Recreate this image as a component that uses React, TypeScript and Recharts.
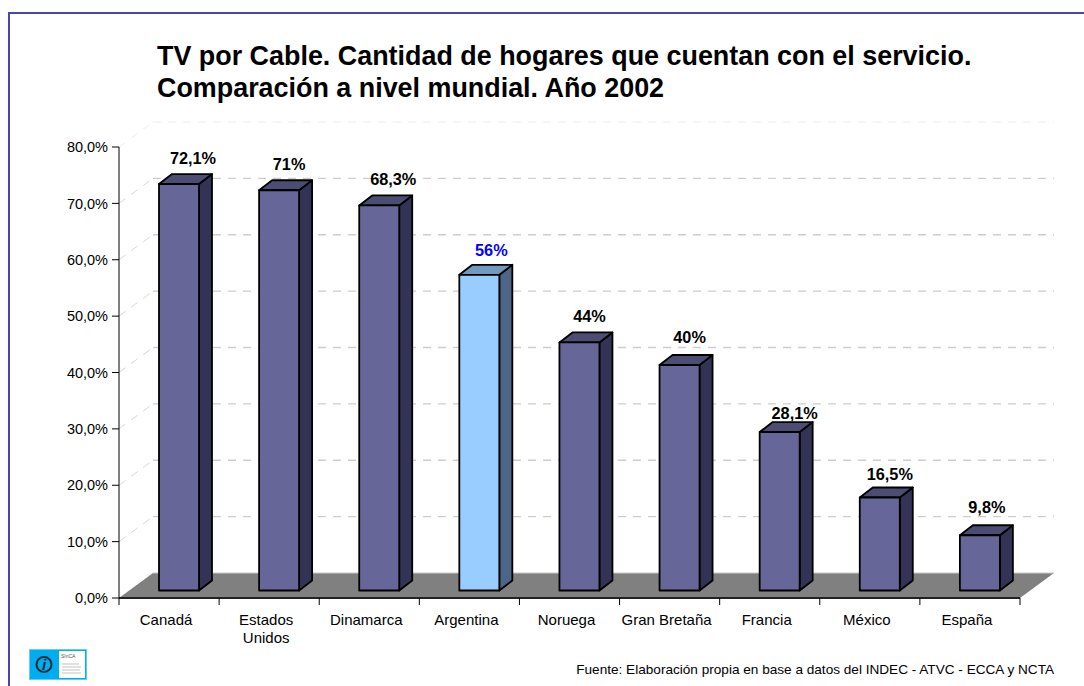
import { BarChart, Bar, XAxis, YAxis, CartesianGrid, Cell, LabelList } from 'recharts';

const countries = ['Canadá', 'Estados Unidos', 'Dinamarca', 'Argentina', 'Noruega', 'Gran Bretaña', 'Francia', 'México', 'España'];
const households = [72.1, 71, 68.3, 56, 44, 40, 28.1, 16.5, 9.8];
const yTicks = [0, 10, 20, 30, 40, 50, 60, 70, 80];
const highlighted = 'Argentina';

const data = countries.map((name, i) => ({ name, value: households[i] }));

const WIDTH = 1084;
const HEIGHT = 686;
const FONT = '"Liberation Sans", Arial, sans-serif';
const margin = { top: 147, right: 64, bottom: 48, left: 49 };
const X_AXIS_HEIGHT = 40;
const PLOT_BOTTOM = HEIGHT - margin.bottom - X_AXIS_HEIGHT;
const BAND = (WIDTH - 119 - margin.right) / countries.length;

// fake 3D: depth of the floor/walls, depth of each bar and how far bars sit inside the floor
const WALL_DX = 34;
const WALL_DY = 25;
const BAR_DX = 13;
const BAR_DY = 10;
const BAR_SHIFT_X = 10;
const BAR_SHIFT_Y = 7.5;

// hand placement of the value labels, relative to the top centre of each bar
const labelNudge = [
  [14, -26], [10, -26], [14, -26], [12, -24], [10, -26], [10, -28], [15, -19], [10, -23], [7, -28],
];

const faces = {
  normal: { front: '#666699', side: '#333355', top: '#4d4d73' },
  accent: { front: '#99ccff', side: '#4d6685', top: '#7399bf' },
};

function Bar3D(props: any) {
  const { x, y, width, height, payload } = props;
  const c = payload.name === highlighted ? faces.accent : faces.normal;
  const l = x + BAR_SHIFT_X;
  const r = l + width;
  const t = y - BAR_SHIFT_Y;
  const b = t + height;
  return (
    <g stroke="#000" strokeWidth={1.8} strokeLinejoin="round">
      <path d={`M${r},${t} L${r + BAR_DX},${t - BAR_DY} L${r + BAR_DX},${b - BAR_DY} L${r},${b} Z`} fill={c.side} />
      <path d={`M${l},${t} L${l + BAR_DX},${t - BAR_DY} L${r + BAR_DX},${t - BAR_DY} L${r},${t} Z`} fill={c.top} />
      <rect x={l} y={t} width={width} height={height} fill={c.front} />
    </g>
  );
}

function WallLine(props: any) {
  const { x1, x2, y1 } = props;
  const isFloor = Math.abs(y1 - PLOT_BOTTOM) < 1;
  const isTop = Math.abs(y1 - margin.top) < 1;
  if (isFloor) {
    return (
      <g>
        <path
          d={`M${x1},${y1} L${x1 + WALL_DX},${y1 - WALL_DY} L${x2 + WALL_DX},${y1 - WALL_DY} L${x2},${y1} Z`}
          fill="#808080"
        />
        <line x1={x1 + WALL_DX} x2={x2 + WALL_DX} y1={y1 - WALL_DY} y2={y1 - WALL_DY} stroke="#c8c8c8" strokeWidth={1} />
      </g>
    );
  }
  const color = isTop ? '#f2f2f2' : '#cdcdcd';
  return (
    <g fill="none" stroke={color} strokeDasharray="8 7">
      <path d={`M${x1},${y1} L${x1 + WALL_DX},${y1 - WALL_DY}`} stroke={isTop ? '#ececec' : '#d8d8d8'} />
      <path d={`M${x1 + WALL_DX},${y1 - WALL_DY} L${x2 + WALL_DX},${y1 - WALL_DY}`} strokeWidth={1.4} />
    </g>
  );
}

function CountryTick(props: any) {
  const { x, y, payload, index } = props;
  const words: string[] = payload.value === 'Estados Unidos' ? ['Estados', 'Unidos'] : [payload.value];
  const left = x - BAND / 2;
  return (
    <g>
      <line x1={left} x2={left} y1={PLOT_BOTTOM} y2={PLOT_BOTTOM + 7} stroke="#000" />
      {index === countries.length - 1 && (
        <line x1={left + BAND} x2={left + BAND} y1={PLOT_BOTTOM} y2={PLOT_BOTTOM + 7} stroke="#000" />
      )}
      {words.map((w, i) => (
        <text key={w} x={x - 3} y={y + 19 + i * 18} textAnchor="middle" fontFamily={FONT} fontSize={15} fill="#000">
          {w}
        </text>
      ))}
    </g>
  );
}

function ValueLabel(props: any) {
  const { x, y, width, value, index } = props;
  const [dx, dy] = labelNudge[index];
  return (
    <text
      x={x + BAR_SHIFT_X + width / 2 + dx}
      y={y - BAR_SHIFT_Y + dy + 5.5}
      textAnchor="middle"
      fontFamily={FONT}
      fontSize={16.3}
      fontWeight="bold"
      fill={countries[index] === highlighted ? '#0000ff' : '#000'}
    >
      {String(value).replace('.', ',')}%
    </text>
  );
}

function Logo() {
  return (
    <svg width={58} height={31} style={{ position: 'absolute', left: 29, top: 649 }}>
      <rect x={0.5} y={0.5} width={57} height={30} fill="#00aeef" stroke="#66ccf5" />
      <rect x={30} y={2} width={26} height={27} fill="#fff" />
      <circle cx={15} cy={15.5} r={7.5} fill="none" stroke="#0b2a3a" strokeWidth={2} />
      <text x={15} y={20.5} textAnchor="middle" fontFamily={FONT} fontSize={15} fontWeight="bold" fontStyle="italic" fill="#0b2a3a">
        i
      </text>
      <text x={32} y={9} fontFamily={FONT} fontSize={5} fill="#555">
        SInCA
      </text>
      <g stroke="#ccc" strokeWidth={1.2}>
        <line x1={33} x2={50} y1={15} y2={15} />
        <line x1={33} x2={52} y1={18} y2={18} />
        <line x1={33} x2={51} y1={21} y2={21} />
        <line x1={33} x2={52} y1={24} y2={24} />
      </g>
    </svg>
  );
}

export default function App() {
  return (
    <div style={{ position: 'absolute', left: 0, top: 0, width: WIDTH, height: HEIGHT, background: '#fff', overflow: 'hidden' }}>
      <div style={{ position: 'absolute', left: 8, top: 12, width: WIDTH, height: HEIGHT, borderLeft: '2px solid #4747ad', borderTop: '2px solid #4747ad' }} />
      <div
        style={{
          position: 'absolute',
          left: 157,
          top: 40,
          fontFamily: FONT,
          fontSize: 26.9,
          fontWeight: 'bold',
          lineHeight: '32px',
          color: '#000',
          whiteSpace: 'nowrap',
        }}
      >
        TV por Cable. Cantidad de hogares que cuentan con el servicio.
        <br />
        Comparación a nivel mundial. Año 2002
      </div>
      <BarChart
        width={WIDTH}
        height={HEIGHT}
        data={data}
        margin={margin}
        barSize={40}
        style={{ position: 'absolute', left: 0, top: 0 }}
      >
        <CartesianGrid vertical={false} horizontal={(p: any) => <WallLine key={p.index} {...p} />} />
        <XAxis
          dataKey="name"
          interval={0}
          height={X_AXIS_HEIGHT}
          tickLine={false}
          axisLine={{ stroke: '#222', strokeWidth: 2 }}
          tick={(p: any) => <CountryTick {...p} />}
        />
        <YAxis
          width={70}
          domain={[0, 80]}
          ticks={yTicks}
          interval={0}
          tickFormatter={(v: number) => `${v},0%`}
          tick={{ fontFamily: FONT, fontSize: 14.5, fill: '#000' }}
          tickSize={7}
          tickMargin={4}
          axisLine={{ stroke: '#000' }}
          tickLine={{ stroke: '#000' }}
        />
        <Bar dataKey="value" isAnimationActive={false} shape={<Bar3D />}>
          {data.map((d) => (
            <Cell key={d.name} fill={d.name === highlighted ? faces.accent.front : faces.normal.front} />
          ))}
          <LabelList dataKey="value" content={<ValueLabel />} />
        </Bar>
      </BarChart>
      <Logo />
      <div
        style={{
          position: 'absolute',
          right: 30,
          top: 662,
          fontFamily: FONT,
          fontSize: 13.6,
          color: '#000',
          whiteSpace: 'nowrap',
        }}
      >
        Fuente: Elaboración propia en base a datos del INDEC - ATVC - ECCA y NCTA
      </div>
    </div>
  );
}
